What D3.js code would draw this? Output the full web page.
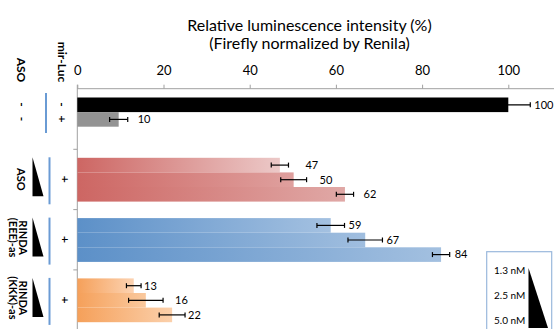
<!DOCTYPE html>
<html><head><meta charset="utf-8">
<script src="https://cdn.jsdelivr.net/npm/d3@7"></script>
<style>html,body{margin:0;padding:0;background:#fff;}svg{display:block;font-family:Lato,"Open Sans",sans-serif;}</style>
</head><body>
<svg id="c" width="554" height="329"></svg>
<script>
// ---- data ----
const groups = ["control", "ASO", "RINDA (EEE)-as", "RINDA (KKK)-as"];
const doses = ["1.3 nM", "2.5 nM", "5.0 nM"];
const controlValues = [100, 9.6];
const controlErrors = [5.1, 2.1];
const asoValues = [47.0, 50.2, 62.1];
const asoErrors = [2.0, 3.0, 2.0];
const eeeValues = [58.8, 66.8, 84.4];
const eeeErrors = [3.2, 4.0, 2.0];
const kkkValues = [13.1, 15.9, 22.0];
const kkkErrors = [1.7, 4.0, 3.0];
const xTicks = [0, 20, 40, 60, 80, 100];
const titleLines = ["Relative luminescence intensity (%)", "(Firefly normalized by Renila)"];

// ---- style / layout ----
const groupFills = [
  {dark: ["#000000", "#939393"], light: ["#000000", "#939393"]},
  {dark: ["#cd6663", "#cd6663", "#cd6663"], light: ["#ecc9c8", "#dfa09e", "#e0a8a6"]},
  {dark: ["#5c90c8", "#5c90c8", "#5c90c8"], light: ["#a4c1e1", "#a0bedf", "#a3c0e0"]},
  {dark: ["#f5a05a", "#f5a05a", "#f5a05a"], light: ["#fcd3b2", "#fac99e", "#fbd0ab"]}
];
const labelGap = [[4, 10], [17, 13, 10], [4, 4, 5], [3, 12, 3]];

const rows = [];
const allVals = [controlValues, asoValues, eeeValues, kkkValues];
const allErrs = [controlErrors, asoErrors, eeeErrors, kkkErrors];
allVals.forEach((vals, gi) => vals.forEach((v, i) => rows.push({g: groups[gi], gi, i, v, e: allErrs[gi][i]})));

const svg = d3.select("#c");
const x = d3.scaleLinear().domain([0, 100]).range([77.3, 508.3]);
const y0 = d3.scaleBand().domain(groups).range([89, 89 + 60.3 * 4]);
const y1 = d3.scaleBand().domain([0, 1, 2]).range([8.5, 8.5 + 14.6 * 3]);

// gradients
const defs = svg.append("defs");
rows.forEach(r => {
  const gr = defs.append("linearGradient").attr("id", `g${r.gi}_${r.i}`).attr("x1", 0).attr("x2", 1).attr("y1", 0).attr("y2", 0);
  gr.append("stop").attr("offset", 0).attr("stop-color", groupFills[r.gi].dark[r.i]);
  gr.append("stop").attr("offset", 1).attr("stop-color", groupFills[r.gi].light[r.i]);
});

// title
svg.append("text").attr("x", 309.5).attr("y", 30.5).attr("text-anchor", "middle").attr("font-size", 16).attr("fill", "#000").text(titleLines[0]);
svg.append("text").attr("x", 309.5).attr("y", 48.5).attr("text-anchor", "middle").attr("font-size", 16).attr("fill", "#000").text(titleLines[1]);

// top axis
const xAxis = svg.append("g").attr("transform", "translate(0,88.7)")
  .call(d3.axisTop(x).tickValues(xTicks).tickSize(4).tickPadding(10).tickFormat(d3.format("d")));
xAxis.select(".domain").remove();
xAxis.selectAll(".tick line").attr("stroke", "#a0a0a0");
xAxis.selectAll(".tick text").attr("font-size", 13).attr("fill", "#000").attr("font-family", "Lato, sans-serif");
svg.append("line").attr("x1", x(0)).attr("x2", 554).attr("y1", 88.7).attr("y2", 88.7).attr("stroke", "#a0a0a0");

// left axis
svg.append("line").attr("x1", x(0)).attr("x2", x(0)).attr("y1", 84.7).attr("y2", 329).attr("stroke", "#a0a0a0");
groups.slice(1).forEach(g => {
  svg.append("line").attr("x1", x(0) - 4).attr("x2", x(0)).attr("y1", y0(g)).attr("y2", y0(g)).attr("stroke", "#a0a0a0");
});

// bars
svg.append("g").selectAll("rect").data(rows).join("rect")
  .attr("x", x(0))
  .attr("y", d => y0(d.g) + y1(d.i))
  .attr("width", d => x(d.v) - x(0))
  .attr("height", y1.bandwidth())
  .attr("fill", d => `url(#g${d.gi}_${d.i})`);

// error bars
const eb = svg.append("g").attr("stroke", "#000").attr("stroke-width", 1.2);
rows.forEach(r => {
  const cy = y0(r.g) + y1(r.i) + y1.bandwidth() / 2;
  eb.append("line").attr("x1", x(r.v - r.e)).attr("x2", x(r.v + r.e)).attr("y1", cy).attr("y2", cy);
  [r.v - r.e, r.v + r.e].forEach(xx => eb.append("line").attr("x1", x(xx)).attr("x2", x(xx)).attr("y1", cy - 2.5).attr("y2", cy + 2.5));
});

// value labels
svg.append("g").selectAll("text").data(rows).join("text")
  .attr("x", d => x(d.v + d.e) + labelGap[d.gi][d.i])
  .attr("y", d => y0(d.g) + y1(d.i) + y1.bandwidth() / 2)
  .attr("dy", "0.35em")
  .attr("font-size", 11).attr("fill", "#000")
  .text(d => Math.round(d.v));

// left label table (rotated text)
function rot(t, cx, cy, size, bold) {
  svg.append("text").attr("transform", `translate(${cx},${cy}) rotate(90)`)
    .attr("text-anchor", "middle").attr("dy", "0.35em")
    .attr("font-size", size).attr("font-weight", bold ? "bold" : "normal").attr("fill", "#000").text(t);
}
rot("ASO", 21, 70, 12, true);
rot("mir-Luc", 62, 62, 12, true);
const blue = "#6a9bd4";
// control rows
const gc = groups[0];
rot("-", 22, y0(gc) + y1(0) + 7, 12, true);
rot("-", 22, y0(gc) + y1(1) + 7, 12, true);
rot("-", 62, y0(gc) + y1(0) + 7, 12, true);
rot("+", 62, y0(gc) + y1(1) + 7, 12, true);
svg.append("line").attr("x1", 46).attr("x2", 46).attr("y1", y0(gc) + 4).attr("y2", y0(gc) + 44).attr("stroke", blue).attr("stroke-width", 2);

// treated groups
groups.slice(1).forEach((g, k) => {
  const top = y0(g);
  const cy = top + 30;
  rot("+", 65, cy, 12, true);
  svg.append("path").attr("d", `M32.5,${top + 8}L32.5,${top + 47}L43.5,${top + 47}Z`).attr("fill", "#000");
  svg.append("line").attr("x1", 49.5).attr("x2", 49.5).attr("y1", top + 8).attr("y2", top + 55).attr("stroke", blue).attr("stroke-width", 2);
});
rot("ASO", 21, y0(groups[1]) + 30, 11, true);
rot("RINDA", 22.5, y0(groups[2]) + 28, 11, true);
rot("(EEE)-as", 12.5, y0(groups[2]) + 28, 11, true);
rot("RINDA", 22.5, y0(groups[3]) + 28, 11, true);
rot("(KKK)-as", 12.5, y0(groups[3]) + 28, 11, true);

// dose legend
const lg = svg.append("g");
lg.append("rect").attr("x", 486.7).attr("y", 251.7).attr("width", 65).attr("height", 100).attr("fill", "#fff").attr("stroke", "#9ab8dc").attr("stroke-width", 1.2);
const ly = d3.scalePoint().domain(doses).range([270, 320]);
lg.selectAll("text").data(doses).join("text")
  .attr("x", 494).attr("y", d => ly(d)).attr("dy", "0.35em").attr("font-size", 10).attr("fill", "#000").text(d => d);
lg.append("path").attr("d", "M528.5,268L528.5,328L548,328Z").attr("fill", "#000");
</script>
</body></html>
